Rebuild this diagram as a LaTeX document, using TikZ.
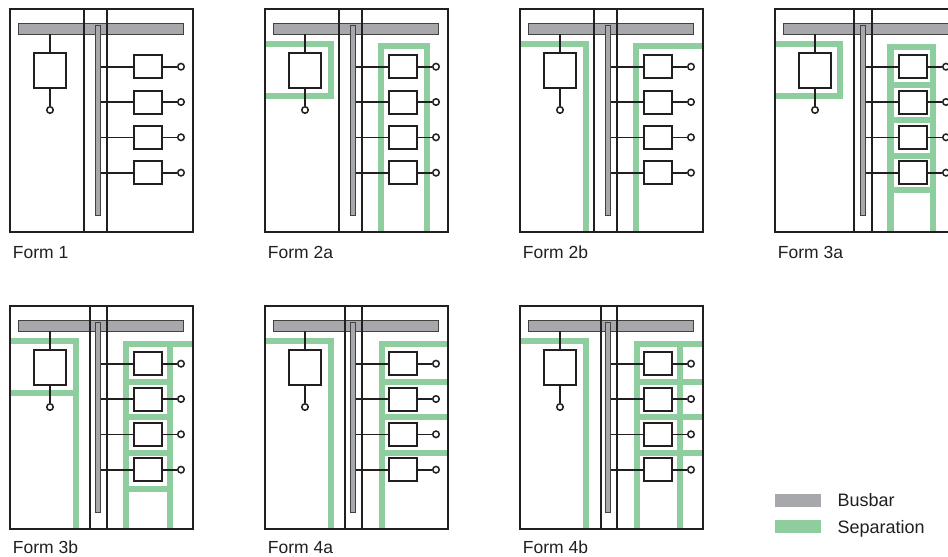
\documentclass[tikz,border=0pt]{standalone}
\usepackage{fontspec}
\setmainfont{Liberation Sans}
\definecolor{busgray}{RGB}{167,168,172}
\definecolor{sepgreen}{RGB}{142,206,158}
\definecolor{ink}{RGB}{35,31,32}
\tikzset{
  frame/.style={draw=ink, line width=2pt},
  sep/.style={draw=sepgreen, line width=6.3pt},
  bus/.style={fill=busgray, draw=ink!85, line width=0.8pt},
  unit/.style={draw=ink, fill=white, line width=2pt, minimum width=28pt, minimum height=23pt, inner sep=0pt},
  bigunit/.style={unit, minimum width=32pt, minimum height=35pt},
  term/.style={circle, draw=ink, fill=white, line width=1.5pt, minimum size=6.5pt, inner sep=0pt},
  wire/.style={draw=ink, line width=1.6pt},
  lbl/.style={font=\fontsize{17.5}{21}\selectfont, text=ink, anchor=base west, inner sep=0pt},
  legbox/.style={draw=none, minimum width=46pt, minimum height=12.7pt, inner sep=0pt},
}
\newcommand\mkpanel[7]{%
\begin{scope}[shift={(#2,#3)}]
  #6
  \draw[frame] (10,9.3) rectangle (193,232.3);
  \draw[bus] (18.3,23.3) rectangle (183.3,34.3);
  \draw[frame] (#4,9.3) -- (#4,232.3);
  \draw[frame] (107.3,9.3) -- (107.3,232.3);
  \draw[bus] (95.3,25) rectangle (100.7,215);
  \coordinate (#1top) at (50,34.3);
  \node[bigunit] (#1L) at (50,70.5) {};
  \node[term] (#1Lt) at (50,110) {};
  \draw[wire] (#1top) -- (#1L.north);
  \draw[wire] (#1L.south) -- (#1Lt);
  \foreach \i/\yy in {1/66.7,2/102,3/137.3,4/172.7}{
    \coordinate (#1b\i) at (100.7,\yy);
    \node[unit] (#1u\i) at (148.3,\yy) {};
    \node[term] (#1t\i) at (181,\yy) {};
    \draw[wire] (#1b\i) -- (#1u\i.west);
    \draw[wire] (#1u\i.east) -- (#1t\i);
  }
  \node[lbl] (#1lab) at (12.7,#7) {#5};
\end{scope}}
\begin{document}
\begin{tikzpicture}[x=1pt,y=-1pt]
\clip (0,0) rectangle (948,557);
\fill[white] (0,0) rectangle (948,557);
% Form 1
\mkpanel{fa}{0}{0}{84}{Form 1}{}{258.3}
% Form 2a
\mkpanel{fb}{255}{0}{84}{Form 2a}{%
  \draw[sep] (10,43.7) -| (76,96.3) -- (10,96.3);
  \draw[sep] (126.3,232.3) |- (171.7,46.3) -- (171.7,232.3);}{258.3}
% Form 2b
\mkpanel{fc}{510}{0}{84}{Form 2b}{%
  \draw[sep] (10,43.7) -| (76,232.3);
  \draw[sep] (126.3,232.3) |- (193,46.3);}{258.3}
% Form 3a
\mkpanel{fd}{765}{0}{89.3}{Form 3a}{%
  \draw[sep] (10,43.7) -| (75,96.3) -- (10,96.3);
  \draw[sep] (125.5,232.3) |- (168.3,46.7) -- (168.3,232.3);
  \foreach \yy in {84.7,120.2,155.8,190}{\draw[sep] (125.5,\yy) -- (168.3,\yy);}}{258.3}
% Form 3b
\mkpanel{fe}{0}{297}{90}{Form 3b}{%
  \draw[sep] (10,44.3) -| (76,232.3);
  \draw[sep] (10,96.3) -- (76,96.3);
  \draw[sep] (126.3,232.3) |- (193,46.7);
  \draw[sep] (169.7,46.7) -- (169.7,232.3);
  \foreach \yy in {84.7,120.2,155.8,192}{\draw[sep] (126.3,\yy) -- (169.7,\yy);}}{256.3}
% Form 4a
\mkpanel{ff}{255}{297}{90}{Form 4a}{%
  \draw[sep] (10,44.3) -| (76,232.3);
  \draw[sep] (126.7,232.3) |- (193,46.7);
  \foreach \yy in {84.7,120.2,155.8}{\draw[sep] (126.7,\yy) -- (193,\yy);}}{256.3}
% Form 4b
\mkpanel{fg}{510}{297}{90.7}{Form 4b}{%
  \draw[sep] (10,44.3) -| (76,232.3);
  \draw[sep] (126.7,232.3) |- (193,46.7);
  \draw[sep] (170,46.7) -- (170,232.3);
  \foreach \yy in {84.7,120.2,155.8}{\draw[sep] (126.7,\yy) -- (193,\yy);}}{256.3}
% Legend
\node[legbox, fill=busgray] (legbus) at (798,500.3) {};
\node[legbox, fill=sepgreen] (legsep) at (798,526.3) {};
\node[lbl, font=\fontsize{18}{21}\selectfont] (legbustxt) at (837.3,506.7) {Busbar};
\node[lbl, font=\fontsize{18}{21}\selectfont] (legseptxt) at (837.3,533) {Separation};
\end{tikzpicture}
\end{document}
